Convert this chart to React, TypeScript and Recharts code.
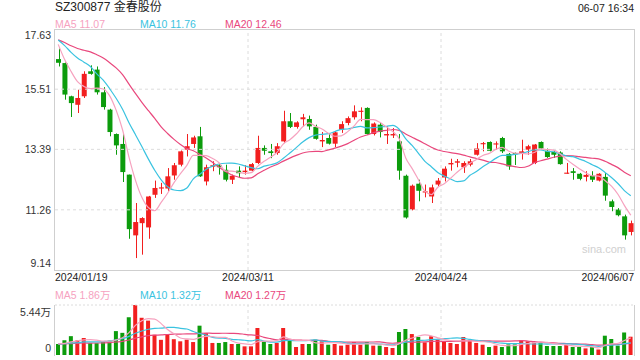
import React from "react";
import { Bar, Cell, ComposedChart, Line, ReferenceLine, XAxis, YAxis } from "recharts";

// daily candles, 2024/01/19 .. 2024/06/07
const OPEN = [
  16.57, 16.43, 15.26, 14.96, 15.26, 16.14, 16.2, 15.4, 14.79, 13.93,
  13.58, 12.5, 10.36, 10.79, 10.64, 11.79, 12.01, 12.01, 12.47, 12.85,
  13.38, 13.58, 13.85, 12.26, 12.78, 12.83, 12.67, 12.32, 12.64, 12.59,
  12.64, 12.91, 13.44, 13.32, 13.26, 13.67, 14.38, 14.18, 14.45, 14.46,
  14.18, 13.67, 13.79, 13.59, 14.08, 14.32, 14.52, 14.71, 14.85, 13.93,
  14.26, 13.88, 13.88, 13.67, 12.46, 11.27, 12.18, 11.87, 11.73, 12.15,
  12.4, 12.86, 12.92, 12.76, 12.85, 13.2, 13.57, 13.65, 13.56, 13.79,
  13.23, 13.26, 13.25, 13.38, 12.91, 13.65, 13.34, 13.3, 13.28, 12.53,
  12.62, 12.53, 12.42, 12.46, 12.29, 12.42, 11.56, 11.27, 11.03, 10.48,
];
const HIGH = [
  16.94, 16.45, 15.28, 15.49, 16.14, 16.35, 16.31, 15.58, 14.82, 13.95,
  13.93, 12.5, 11.5, 11.0, 11.75, 12.29, 12.21, 12.73, 12.91, 13.35,
  13.93, 13.87, 14.18, 12.85, 12.97, 12.91, 12.85, 12.5, 12.79, 12.83,
  12.91, 13.87, 13.53, 13.58, 13.61, 14.75, 14.67, 14.38, 14.64, 14.58,
  14.26, 14.0, 13.93, 14.03, 14.38, 14.55, 14.94, 14.87, 14.87, 14.34,
  14.32, 14.2, 14.14, 13.93, 12.5, 12.15, 12.32, 12.15, 12.15, 12.38,
  12.79, 13.06, 13.05, 12.97, 13.05, 13.61, 13.65, 13.67, 13.67, 13.83,
  13.26, 13.28, 13.73, 13.55, 13.58, 13.67, 13.42, 13.34, 13.32, 12.91,
  12.73, 12.56, 12.62, 12.62, 12.55, 12.56, 11.62, 11.32, 11.09, 10.88,
];
const LOW = [
  16.31, 15.14, 14.53, 14.67, 15.2, 16.02, 15.32, 14.79, 13.85, 13.2,
  12.24, 10.24, 9.56, 9.68, 10.24, 11.68, 11.82, 11.91, 12.32, 12.79,
  13.14, 13.44, 12.42, 12.12, 12.62, 12.5, 12.26, 12.17, 12.38, 12.5,
  12.62, 12.87, 13.2, 13.08, 13.2, 13.61, 14.14, 14.12, 14.2, 14.08,
  13.73, 13.47, 13.56, 13.47, 13.97, 14.24, 14.44, 14.38, 13.91, 13.88,
  13.81, 13.58, 13.79, 12.32, 10.95, 11.24, 11.56, 11.7, 11.5, 12.09,
  12.26, 12.64, 12.76, 12.56, 12.79, 13.17, 13.32, 13.32, 13.38, 13.26,
  12.67, 12.84, 13.03, 13.2, 12.87, 13.38, 13.09, 13.09, 12.85, 12.53,
  12.32, 12.3, 12.26, 12.24, 12.26, 11.58, 11.21, 11.03, 10.21, 10.36,
];
const CLOSE = [
  16.44, 15.32, 15.02, 15.2, 16.05, 16.05, 15.4, 14.88, 14.0, 13.53,
  12.59, 10.58, 10.83, 10.97, 11.73, 12.03, 12.05, 12.44, 12.83, 13.32,
  13.5, 13.81, 12.44, 12.76, 12.83, 12.76, 12.32, 12.46, 12.55, 12.64,
  12.87, 13.44, 13.34, 13.26, 13.5, 14.38, 14.18, 14.34, 14.52, 14.2,
  13.76, 13.72, 13.59, 13.99, 14.28, 14.49, 14.73, 14.75, 13.93, 14.3,
  14.0, 13.93, 13.93, 12.64, 10.99, 12.11, 11.93, 11.91, 12.05, 12.29,
  12.71, 12.91, 12.97, 12.91, 12.97, 13.42, 13.61, 13.34, 13.6, 13.32,
  12.79, 13.22, 13.32, 13.5, 13.56, 13.42, 13.12, 13.2, 12.87, 12.57,
  12.56, 12.35, 12.49, 12.32, 12.53, 11.76, 11.36, 11.07, 10.36, 10.79,
];
// 万手
const VOLUME = [
  1.2, 1.6, 2.05, 1.58, 1.85, 1.29, 1.29, 1.5, 1.56, 2.6,
  2.41, 4.12, 5.44, 4.05, 3.74, 2.2, 1.65, 2.2, 1.72, 1.49,
  1.67, 1.41, 3.19, 2.39, 1.31, 1.31, 1.41, 1.2, 1.2, 0.94,
  0.94, 2.94, 1.49, 1.2, 1.31, 2.94, 1.67, 0.87, 1.2, 1.2,
  1.67, 1.49, 1.12, 1.2, 1.02, 1.12, 1.41, 1.12, 1.41, 1.02,
  1.02, 0.87, 0.76, 2.5, 2.83, 2.28, 1.96, 1.38, 2.03, 1.67,
  1.49, 1.31, 1.2, 1.96, 1.67, 1.31, 1.12, 0.87, 1.02, 0.87,
  1.15, 1.15, 1.6, 1.49, 1.38, 1.38, 0.98, 0.98, 0.98, 1.12,
  0.87, 0.87, 0.72, 0.87, 0.6, 2.1, 1.74, 1.02, 2.45, 1.99,
];
// sessions before the window, only used to seed the moving averages
const PRIOR_CLOSE = [
  17.2, 17.3, 17.1, 17.3, 17.2, 17.4, 17.2, 17.3, 17.2, 17.3,
  17.3, 17.4, 17.2, 17.5, 17.6, 18.0, 17.1, 17.0, 16.9,
];
const PRIOR_VOLUME = [
  1.1, 1.3, 1.0, 1.2, 1.4, 1.1, 1.2, 1.0, 1.3, 1.2,
  1.1, 1.2, 1.4, 1.0, 1.1, 1.3, 1.2, 1.1, 1.2,
];

const DATE_LABELS = ["2024/01/19", "2024/03/11", "2024/04/24", "2024/06/07"];
const PRICE_TICKS = [9.14, 11.26, 13.39, 15.51, 17.63];
const VOL_MAX = 5.44;

const PRICE_MIN = PRICE_TICKS[0];
const PRICE_MAX = PRICE_TICKS[PRICE_TICKS.length - 1];

const RED = "#f21f1f";
const GREEN = "#0c9c0c";
const C_MA5 = "#f6a2bf";
const C_MA10 = "#3ac3e0";
const C_MA20 = "#e9487d";
const GRID = "#dcdcdc";
const BORDER = "#cfcfcf";
const FONT = 'Arial, "Liberation Sans", "Noto Sans CJK SC", sans-serif';

function movingAverage(prior: number[], values: number[], n: number) {
  const all = [...prior, ...values];
  return values.map((_, i) => {
    const end = prior.length + i;
    let sum = 0;
    for (let k = end - n + 1; k <= end; k++) sum += all[k];
    return sum / n;
  });
}

const MA5 = movingAverage(PRIOR_CLOSE, CLOSE, 5);
const MA10 = movingAverage(PRIOR_CLOSE, CLOSE, 10);
const MA20 = movingAverage(PRIOR_CLOSE, CLOSE, 20);
const VMA5 = movingAverage(PRIOR_VOLUME, VOLUME, 5);
const VMA10 = movingAverage(PRIOR_VOLUME, VOLUME, 10);
const VMA20 = movingAverage(PRIOR_VOLUME, VOLUME, 20);

const rows = CLOSE.map((close, i) => ({
  i,
  open: OPEN[i],
  high: HIGH[i],
  low: LOW[i],
  close,
  range: [LOW[i], HIGH[i]],
  vol: VOLUME[i],
  ma5: MA5[i],
  ma10: MA10[i],
  ma20: MA20[i],
  vma5: VMA5[i],
  vma10: VMA10[i],
  vma20: VMA20[i],
}));

const last = rows.length - 1;
// x axis runs from half a slot before the first candle to half after the last;
// the date labels sit at equal thirds of it
const X_DOMAIN = [-0.5, last + 0.5];
const DATE_POS = DATE_LABELS.map(
  (_, k) => X_DOMAIN[0] + (k * (X_DOMAIN[1] - X_DOMAIN[0])) / (DATE_LABELS.length - 1),
);

function Candle(props: any) {
  const { x, y, width, height, payload } = props;
  if (!payload) return null;
  const { open, close, high, low } = payload;
  const color = close >= open ? RED : GREEN;
  const top = Math.min(y, y + height);
  const h = Math.abs(height);
  const ppx = h / (high - low || 1);
  const bodyTop = top + (high - Math.max(open, close)) * ppx;
  const bodyH = Math.max(1, Math.abs(close - open) * ppx);
  const cx = Math.round(x + width / 2) + 0.5;
  return (
    <g>
      <line x1={cx} x2={cx} y1={top} y2={top + h} stroke={color} strokeWidth={1} />
      <rect x={x} y={bodyTop} width={width} height={bodyH} fill={color} />
    </g>
  );
}

function PriceTick(props: any) {
  const { y, payload } = props;
  const v = payload.value;
  const shift = v === PRICE_MAX ? 6 : v === PRICE_MIN ? -7 : 0;
  return (
    <text x={51} y={y + shift} dy={3.8} textAnchor="end" fontSize={10.5} fill="#333" fontFamily={FONT}>
      {v.toFixed(2)}
    </text>
  );
}

function DateTick(props: any) {
  const { x, payload } = props;
  const k = DATE_POS.indexOf(payload.value);
  const anchor = k === 0 ? "start" : k === DATE_LABELS.length - 1 ? "end" : "middle";
  return (
    <text x={x} y={281} textAnchor={anchor} fontSize={10.5} fill="#222" fontFamily={FONT}>
      {DATE_LABELS[k]}
    </text>
  );
}

function VolTick(props: any) {
  const { y, payload } = props;
  const v = payload.value;
  const shift = v === 0 ? -7 : 7;
  return (
    <text x={51} y={y + shift} dy={3.8} textAnchor="end" fontSize={10.5} fill="#333" fontFamily={FONT}>
      {v === 0 ? "0" : `${v.toFixed(2)}万`}
    </text>
  );
}

function Label({ left, top, color, size = 10.5, right, children }: any) {
  return (
    <span
      style={{
        position: "absolute",
        left,
        right,
        top,
        color,
        fontSize: size,
        lineHeight: "12px",
        whiteSpace: "nowrap",
      }}
    >
      {children}
    </span>
  );
}

const lineProps = {
  type: "monotone" as const,
  dot: false,
  activeDot: false,
  strokeWidth: 1.2,
  isAnimationActive: false,
};

export default function App() {
  return (
    <div
      style={{
        position: "absolute",
        left: 0,
        top: 0,
        width: 640,
        height: 360,
        background: "#fff",
        overflow: "hidden",
        fontFamily: FONT,
      }}
    >
      <Label left={55} top={1} color="#222" size={12}>SZ300877 金春股份</Label>
      <Label right={6} top={2} color="#222">06-07 16:34</Label>
      <Label left={55} top={18} color={C_MA5}>MA5 {MA5[last].toFixed(2)}</Label>
      <Label left={140} top={18} color={C_MA10}>MA10 {MA10[last].toFixed(2)}</Label>
      <Label left={225} top={18} color={C_MA20}>MA20 {MA20[last].toFixed(2)}</Label>

      <div style={{ position: "absolute", left: 0, top: 0 }}>
        <ComposedChart width={640} height={285} data={rows} margin={{ top: 29, right: 6, bottom: 0, left: 0 }}>
          <XAxis
            dataKey="i"
            type="number"
            domain={X_DOMAIN}
            ticks={DATE_POS}
            interval={0}
            height={15}
            axisLine={false}
            tickLine={false}
            allowDataOverflow
            tick={<DateTick />}
          />
          <YAxis
            domain={[PRICE_MIN, PRICE_MAX]}
            ticks={PRICE_TICKS}
            interval={0}
            width={55}
            axisLine={false}
            tickLine={false}
            allowDataOverflow
            tick={<PriceTick />}
          />
          {PRICE_TICKS.slice(1, -1).map((v) => (
            <ReferenceLine key={v} y={v} stroke={GRID} strokeDasharray="3 3" />
          ))}
          {DATE_POS.slice(1, -1).map((v) => (
            <ReferenceLine key={v} x={v} stroke={GRID} strokeDasharray="3 3" />
          ))}
          <Bar dataKey="range" barSize={5} shape={<Candle />} isAnimationActive={false} />
          <Line dataKey="ma20" stroke={C_MA20} {...lineProps} />
          <Line dataKey="ma10" stroke={C_MA10} {...lineProps} />
          <Line dataKey="ma5" stroke={C_MA5} {...lineProps} />
        </ComposedChart>
      </div>

      <Label left={582} top={243} color="#d0d0d0" size={11}>sina.com</Label>

      <Label left={55} top={289} color={C_MA5}>MA5 {VMA5[last].toFixed(2)}万</Label>
      <Label left={140} top={289} color={C_MA10}>MA10 {VMA10[last].toFixed(2)}万</Label>
      <Label left={225} top={289} color={C_MA20}>MA20 {VMA20[last].toFixed(2)}万</Label>

      <div style={{ position: "absolute", left: 0, top: 285 }}>
        <ComposedChart width={640} height={75} data={rows} margin={{ top: 20, right: 6, bottom: 5, left: 0 }}>
          <XAxis dataKey="i" type="number" domain={X_DOMAIN} allowDataOverflow hide />
          <YAxis
            domain={[0, VOL_MAX]}
            ticks={[0, VOL_MAX]}
            interval={0}
            width={55}
            axisLine={false}
            tickLine={false}
            allowDataOverflow
            tick={<VolTick />}
          />
          <ReferenceLine y={VOL_MAX} stroke={GRID} strokeDasharray="2 2" />
          {DATE_POS.slice(1, -1).map((v) => (
            <ReferenceLine key={v} x={v} stroke={GRID} strokeDasharray="3 3" />
          ))}
          <Bar dataKey="vol" barSize={4} isAnimationActive={false}>
            {rows.map((r) => (
              <Cell key={r.i} fill={r.close >= r.open ? RED : GREEN} />
            ))}
          </Bar>
          <Line dataKey="vma20" stroke={C_MA20} {...lineProps} />
          <Line dataKey="vma10" stroke={C_MA10} {...lineProps} />
          <Line dataKey="vma5" stroke={C_MA5} {...lineProps} />
        </ComposedChart>
      </div>

      {/* pane frames */}
      <div
        style={{
          position: "absolute",
          left: 54,
          top: 29,
          width: 581,
          height: 242,
          boxSizing: "border-box",
          border: `1px solid ${BORDER}`,
          pointerEvents: "none",
        }}
      />
      <div
        style={{
          position: "absolute",
          left: 54,
          top: 305,
          width: 581,
          height: 51,
          boxSizing: "border-box",
          borderLeft: `1px solid ${BORDER}`,
          borderRight: `1px solid ${BORDER}`,
          pointerEvents: "none",
        }}
      />
    </div>
  );
}
